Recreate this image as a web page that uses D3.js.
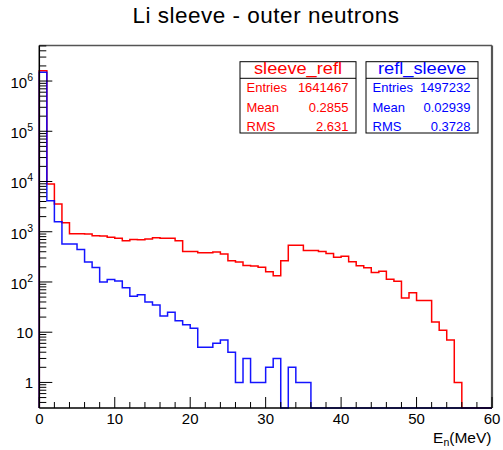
<!DOCTYPE html>
<html><head><meta charset="utf-8">
<script src="https://cdn.jsdelivr.net/npm/d3@7"></script>
<style>
html,body{margin:0;padding:0;background:#fff;}
svg{display:block;font-family:"Liberation Sans",Arial,sans-serif;}
</style></head>
<body>
<script>
// Bin edges: 1 MeV bins from 0 to 60
const binEdges = d3.range(0, 61, 1);
// sleeve_refl (red) counts per bin
const redCounts = [1610000, 8900, 3550, 1510, 910, 910, 900, 830, 820, 775,
  740, 660, 700, 690, 716, 760, 740, 740, 665, 405,
  405, 383, 383, 394, 360, 265, 249, 212, 208, 196,
  160, 133, 265, 536, 536, 425, 425, 405, 371, 310,
  325, 252, 210, 193, 155, 163, 113, 103, 48, 61,
  43, 43, 16, 11, 7, 1, 0, 0, 0, 0];
// refl_sleeve (blue) counts per bin
const blueCounts = [1490000, 4150, 1590, 570, 570, 445, 250, 195, 100, 112,
  105, 77, 52, 56, 40, 35, 21, 25, 17, 14,
  12, 5, 5, 6, 7, 4, 1, 3, 1, 1,
  2, 3, 0, 2, 1, 1, 0, 0, 0, 0,
  0, 0, 0, 0, 0, 0, 0, 0, 0, 0,
  0, 0, 0, 0, 0, 0, 0, 0, 0, 0];
const xTickValues = [0, 10, 20, 30, 40, 50, 60];
const yMajorTicks = [1, 10, 100, 1000, 10000, 100000, 1000000];
const yTickLabels = [["1", ""], ["10", ""], ["10", "2"], ["10", "3"], ["10", "4"], ["10", "5"], ["10", "6"]];
const statNames = ["sleeve_refl", "refl_sleeve"];
const statRowLabels = ["Entries", "Mean", "RMS"];
const statValues = [["1641467", "0.2855", "2.631"], ["1497232", "0.02939", "0.3728"]];
const seriesColors = ["#ff0000", "#0000ff"];

const W = 503, H = 450;
const L = 39.3, R = 492, T = 45.5, B = 408;
const yMin = 0.31, yMax = 5.1e6;

const svg = d3.select("body").append("svg").attr("width", W).attr("height", H);

const x = d3.scaleLinear().domain([0, 60]).range([L, R]);
const y = d3.scaleLog().domain([yMin, yMax]).range([B, T]).clamp(true);

// title
svg.append("text").attr("x", 266).attr("y", 23).attr("text-anchor", "middle")
  .attr("font-size", 22.5).attr("letter-spacing", 0.5).attr("fill", "#000").text("Li sleeve - outer neutrons");

// histograms
function histPoints(counts) {
  const pts = [[binEdges[0], yMin]];
  counts.forEach((c, i) => {
    const v = c > 0 ? c : yMin;
    pts.push([binEdges[i], v]);
    pts.push([binEdges[i + 1], v]);
  });
  pts.push([binEdges[binEdges.length - 1], yMin]);
  return pts;
}
const line = d3.line().x(d => x(d[0])).y(d => y(d[1]));
const g = svg.append("g");
[redCounts, blueCounts].forEach((counts, k) => {
  g.append("path").attr("d", line(histPoints(counts)))
    .attr("fill", "none").attr("stroke", seriesColors[k]).attr("stroke-width", 1.5)
    .attr("stroke-opacity", k === 1 ? 0.92 : 1);
});

// frame top/right
svg.append("line").attr("x1", L).attr("x2", R).attr("y1", T).attr("y2", T)
  .attr("stroke", "#555").attr("stroke-width", 1.5);
svg.append("line").attr("x1", R).attr("x2", R).attr("y1", T).attr("y2", B)
  .attr("stroke", "#555").attr("stroke-width", 2.2);

// x axis ticks
const xMinor = d3.range(0, 61, 2);
svg.append("g").selectAll("line").data(xMinor).join("line")
  .attr("x1", d => x(d)).attr("x2", d => x(d))
  .attr("y1", B).attr("y2", d => B - (d % 10 === 0 ? 11 : 6))
  .attr("stroke", "#000").attr("stroke-width", 1);
svg.append("g").selectAll("text").data(xTickValues).join("text")
  .attr("x", d => x(d)).attr("y", 424).attr("text-anchor", "middle")
  .attr("font-size", 15).text(d => d);

// y axis ticks
const yMinor = [];
for (let d = -1; d <= 6; d++) {
  for (let k = 2; k <= 9; k++) {
    const v = k * Math.pow(10, d);
    if (v >= yMin && v <= yMax) yMinor.push(v);
  }
}
svg.append("g").selectAll("line").data(yMinor).join("line")
  .attr("x1", L).attr("x2", L + 7).attr("y1", d => y(d)).attr("y2", d => y(d))
  .attr("stroke", "#000").attr("stroke-width", 1);
svg.append("g").selectAll("line").data(yMajorTicks).join("line")
  .attr("x1", L).attr("x2", L + 13).attr("y1", d => y(d)).attr("y2", d => y(d))
  .attr("stroke", "#000").attr("stroke-width", 1);
const yl = svg.append("g").selectAll("text").data(yMajorTicks).join("text")
  .attr("x", 33).attr("y", (d, i) => y(d) + (yTickLabels[i][1] ? 6.8 : 5.6))
  .attr("text-anchor", "end").attr("font-size", 15);
yl.each(function (d, i) {
  const t = d3.select(this);
  t.append("tspan").text(yTickLabels[i][0]);
  if (yTickLabels[i][1]) {
    t.append("tspan").attr("font-size", 10.5).attr("dy", -7).text(yTickLabels[i][1]);
  }
});

// axes lines
svg.append("line").attr("x1", L).attr("x2", L).attr("y1", T).attr("y2", B)
  .attr("stroke", "#000").attr("stroke-width", 1.5);
svg.append("line").attr("x1", L).attr("x2", R).attr("y1", B).attr("y2", B)
  .attr("stroke", "#000").attr("stroke-width", 1.5);

// x axis title
const xt = svg.append("text").attr("x", 491.5).attr("y", 443).attr("text-anchor", "end")
  .attr("font-size", 15.5);
xt.append("tspan").text("E");
xt.append("tspan").attr("font-size", 10.5).attr("dy", 3).text("n");
xt.append("tspan").attr("dy", -3).text("(MeV)");

// stat boxes
const boxes = [{x0: 240, x1: 356}, {x0: 366, x1: 478}];
const bTop = 61.7, bHead = 78.3, bBot = 133;
const rowBase = [92, 112, 130.5];
boxes.forEach((b, k) => {
  const bg = svg.append("g");
  bg.append("rect").attr("x", b.x0).attr("y", bTop).attr("width", b.x1 - b.x0)
    .attr("height", bBot - bTop).attr("fill", "#fff").attr("stroke", "#000").attr("stroke-width", 1);
  bg.append("line").attr("x1", b.x0).attr("x2", b.x1).attr("y1", bHead).attr("y2", bHead)
    .attr("stroke", "#000").attr("stroke-width", 1);
  bg.append("text").attr("x", (b.x0 + b.x1) / 2).attr("y", 73.8).attr("text-anchor", "middle")
    .attr("font-size", 16).attr("textLength", 88).attr("lengthAdjust", "spacingAndGlyphs")
    .attr("fill", seriesColors[k]).text(statNames[k]);
  statRowLabels.forEach((lab, r) => {
    bg.append("text").attr("x", b.x0 + 6.5).attr("y", rowBase[r]).attr("font-size", 13)
      .attr("fill", seriesColors[k]).text(lab);
    bg.append("text").attr("x", b.x1 - 7.5).attr("y", rowBase[r]).attr("font-size", 13)
      .attr("text-anchor", "end").attr("fill", seriesColors[k]).text(statValues[k][r]);
  });
});
</script>
</body></html>
